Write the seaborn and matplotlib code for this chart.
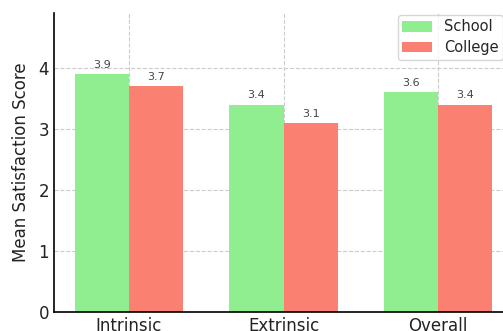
import matplotlib
matplotlib.use("Agg")
import matplotlib.pyplot as plt
import seaborn as sns
import pandas as pd

categories = ["Intrinsic", "Extrinsic", "Overall"]
school = [3.9, 3.4, 3.6]
college = [3.7, 3.1, 3.4]
groups = ["School", "College"]
colors = ["#90EE90", "#FA8072"]

df = pd.DataFrame({
    "Category": categories * 2,
    "Group": [groups[0]] * 3 + [groups[1]] * 3,
    "Score": school + college,
})

sns.set_style("white")
plt.rcParams["font.family"] = ["DejaVu Sans"]

W, H = 503, 331
fig = plt.figure(figsize=(W / 100, H / 100), dpi=100)
ax = fig.add_axes([54 / W, (H - 312) / H, (513 - 54) / W, (312 - 13) / H])

sns.barplot(data=df, x="Category", y="Score", hue="Group", order=categories,
            hue_order=groups, palette=colors, width=0.7, saturation=1,
            edgecolor="none", ax=ax)

for cont in ax.containers:
    ax.bar_label(cont, fmt="%.1f", fontsize=8, color="#444444", padding=3)

ax.set_xlim(-0.485, 2.485)
ax.set_ylim(0, 4.9)
ax.set_yticks([0, 1, 2, 3, 4])
ax.set_xlabel("")
ax.set_ylabel("Mean Satisfaction Score", fontsize=12, color="#222222", labelpad=6)
ax.tick_params(axis="both", labelsize=12, direction="in", length=4, colors="#222222")
ax.grid(True, linestyle="--", color="#cccccc", linewidth=0.8)
ax.set_axisbelow(True)
for s in ["top", "right"]:
    ax.spines[s].set_visible(False)
for s in ["left", "bottom"]:
    ax.spines[s].set_color("black")
    ax.spines[s].set_linewidth(1.2)

leg = ax.legend(loc="upper left", bbox_to_anchor=(398 / W, 1 - 15 / H),
                bbox_transform=fig.transFigure, borderaxespad=0,
                fontsize=10.5, handlelength=2.0, handleheight=0.75,
                handletextpad=0.85, labelspacing=0.4, borderpad=0.3,
                frameon=True)
leg.get_frame().set_edgecolor("#cccccc")

fig.savefig("out.png", dpi=100)
